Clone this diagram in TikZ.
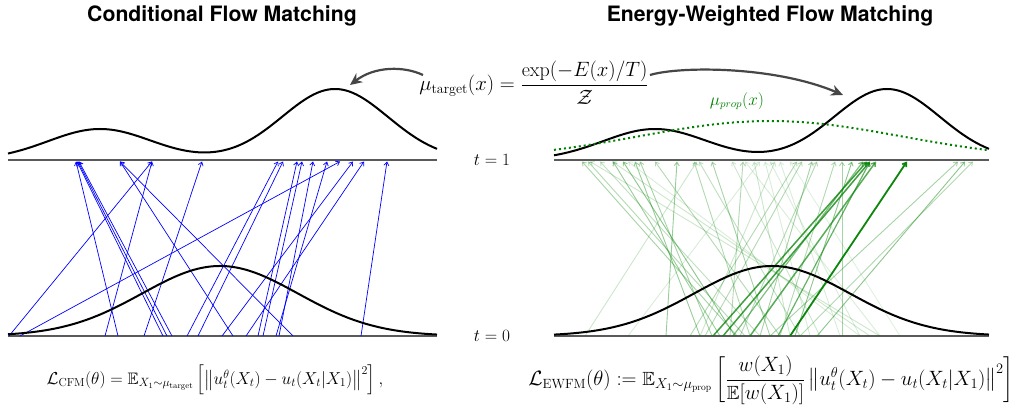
\documentclass[tikz,border=0pt]{standalone}
\usepackage{amsmath,amssymb}
\usepackage{fontspec}
\newfontfamily\titlefont{TeX Gyre Heros}
\usetikzlibrary{arrows.meta}
\definecolor{fgreen}{RGB}{0,128,0}
\definecolor{axisgray}{RGB}{90,90,90}
\definecolor{arrgray}{RGB}{70,70,70}
\begin{document}
\begin{tikzpicture}[x=10pt,y=-10pt,
  axisline/.style={draw=axisgray, line width=1.3pt},
  dens/.style={draw=black, line width=2pt},
  cfm/.style={draw=blue, line width=0.7pt, -{Straight Barb[length=3.5pt,width=5pt]}},
  ew/.style={draw=fgreen, -{Straight Barb[length=3.5pt,width=5pt]}},
  garrow/.style={draw=arrgray, line width=2.2pt, -{Stealth[length=12pt,width=11pt]}},
  ttl/.style={font=\titlefont\bfseries\fontsize{21.2}{25}\selectfont},
  tlab/.style={font=\fontsize{17}{20}\selectfont}]
\useasboundingbox (0,0) rectangle (101.4,40.6);

% titles
\node[ttl] (t1) at (22.2,1.55) {Conditional Flow Matching};
\node[ttl] (t2) at (77.0,1.55) {Energy-Weighted Flow Matching};

% axis lines
\draw[axisline] (0.8,16.0) -- (43.7,16.0);
\draw[axisline] (0.8,33.6) -- (43.7,33.6);
\draw[axisline] (55.4,16.0) -- (98.9,16.0);
\draw[axisline] (55.4,33.6) -- (98.9,33.6);

% blue CFM arrows
\foreach \b/\t in {0.9/15.2, 2.0/34.0, 10.5/15.2, 11.8/7.6, 14.4/20.2, 16.3/7.7,
  16.7/7.8, 17.2/7.9, 18.7/27.8, 19.8/28.3, 22.2/35.3, 23.3/12.0, 24.6/36.4,
  25.8/29.7, 26.3/30.2, 27.9/31.3, 27.6/32.7, 29.3/12.0, 36.1/38.7}
  \draw[cfm] (\b,33.6) -- (\t,16.15);

% green EWFM arrows
\foreach \b/\t/\o/\w in {73.7/58.2/0.35/0.9, 74.5/58.8/0.3/0.9, 76.0/60.0/0.25/0.9,
  72.0/61.3/0.4/0.9, 73.5/62.3/0.45/0.9, 70.0/63.5/0.4/0.9, 71.2/64.0/0.35/0.9,
  78.0/65.5/0.3/0.9, 66.6/67.7/0.4/0.9, 75.0/69.4/0.3/0.9, 80.0/69.9/0.25/0.9,
  77.0/71.2/0.35/0.9, 82.0/73.2/0.2/0.9, 73.0/74.3/0.3/0.9, 79.0/75.4/0.2/0.9,
  81.0/76.5/0.15/0.9, 70.0/77.5/0.2/0.9, 84.0/78.0/0.15/0.9, 58.5/69.7/0.2/0.9,
  62.8/76.0/0.15/0.9, 69.0/79.7/0.3/0.9, 70.5/80.2/0.3/0.9, 76.0/81.2/0.35/0.9,
  74.0/81.7/0.3/0.9, 78.0/83.5/0.3/0.9, 84.2/84.2/0.35/0.9, 79.5/85.2/0.45/0.9,
  71.3/86.7/0.75/1.5, 72.3/87.0/0.75/1.5, 75.0/87.6/0.65/1.5, 73.3/86.3/0.5/1.2,
  77.8/87.0/0.6/1.2, 79.0/90.7/0.95/1.8, 81.7/96.5/0.45/0.9, 77.0/95.8/0.35/0.9,
  80.0/97.3/0.3/0.9, 88.0/59.0/0.2/0.9, 87.0/61.2/0.2/0.9, 86.0/62.8/0.15/0.9,
  88.0/74.5/0.15/0.9, 86.0/77.0/0.15/0.9, 90.0/79.0/0.12/0.9}
  \draw[ew, opacity=\o, line width=\w pt] (\b,33.6) -- (\t,16.15);

% densities
\draw[dens] plot[domain=0.8:43.7, samples=150] (\x, {16.0 - 3.1*exp(-(\x-10.0)^2/54.08) - 7.1*exp(-(\x-33.5)^2/56.18)});
\draw[dens] plot[domain=55.4:98.9, samples=150] (\x, {16.0 - 3.1*exp(-(\x-65.5)^2/54.08) - 7.1*exp(-(\x-88.7)^2/56.18)});
\draw[dens] plot[domain=0.8:43.7, samples=150] (\x, {33.6 - 7.0*exp(-(\x-22.0)^2/121.68)});
\draw[dens] plot[domain=55.4:98.9, samples=150] (\x, {33.6 - 7.0*exp(-(\x-77.2)^2/121.68)});
\draw[fgreen, line width=2pt, dash pattern=on 2pt off 3pt] plot[domain=55.4:98.9, samples=150] (\x, {16.0 - 3.9*exp(-(\x-77.0)^2/346)});

% labels
\node[tlab] (l1) at (49.2,16.0) {$t=1$};
\node[tlab] (l0) at (49.2,33.6) {$t=0$};
\node[font=\fontsize{16}{19}\selectfont, text=fgreen] (mp) at (73.7,10.1) {$\mu_{prop}(x)$};
\node[font=\fontsize{20}{24}\selectfont] (mt) at (53.4,8.3) {$\mu_{\mathrm{target}}(x) = \dfrac{\exp(-E(x)/T)}{\mathcal{Z}}$};

% curved arrows
\coordinate (a1s) at (42.3,7.5);
\coordinate (a1e) at (35.0,8.5);
\coordinate (a2s) at (65.0,7.5);
\coordinate (a2e) at (84.3,9.5);
\draw[garrow] (a1s) .. controls (40.4,6.6) and (37.5,6.6) .. (a1e);
\draw[garrow] (a2s) .. controls (68.0,6.6) and (77.5,6.6) .. (a2e);

% losses
\node[inner sep=0pt, font=\fontsize{16.6}{20}\selectfont] (lc) at (21.5,38.0) {$\mathcal{L}_{\mathrm{CFM}}(\theta) = \mathbb{E}_{X_1\sim\mu_{\mathrm{target}}}\left[\left\|u_t^\theta(X_t) - u_t(X_t|X_1)\right\|^2\right],$};
\node[inner sep=0pt, font=\fontsize{19.1}{23}\selectfont] (le) at (77.1,38.0) {$\mathcal{L}_{\mathrm{EWFM}}(\theta) := \mathbb{E}_{X_1\sim\mu_{\mathrm{prop}}}\left[\dfrac{w(X_1)}{\mathbb{E}[w(X_1)]}\left\|u_t^\theta(X_t) - u_t(X_t|X_1)\right\|^2\right]$};
\end{tikzpicture}
\end{document}
